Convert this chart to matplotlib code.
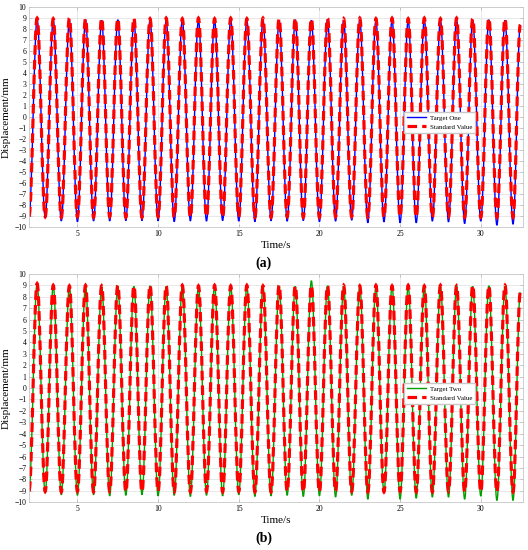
import numpy as np
import matplotlib
matplotlib.use('Agg')
import matplotlib.pyplot as plt
from matplotlib.path import Path
from matplotlib.patches import PathPatch
from matplotlib.lines import Line2D

plt.rcParams['font.family'] = ['Liberation Serif', 'DejaVu Serif']

# Time of every trough (s); peaks sit half a period later
trough_t = np.arange(2, 33)
peak_t = trough_t + 0.5
END_T = 32.45

# (a) Target One vs standard value: per-cycle extremes (mm)
one_troughs = [-9.0, -9.1, -9.43, -9.5, -9.43, -9.43, -9.4, -9.4, -9.42, -9.5, -9.43,
               -9.45, -9.4, -9.45, -9.5, -9.42, -9.45, -9.4, -9.5, -9.45,
               -9.36, -9.6, -9.52, -9.6, -9.6, -9.45, -9.52, -9.67, -9.45, -9.82, -9.73]
one_peaks = [8.9, 8.85, 8.8, 8.85, 8.8, 8.85, 8.8, 8.85, 8.8, 8.85, 8.8,
             8.8, 8.85, 8.8, 8.85, 8.8, 8.85, 8.8, 8.85, 8.8, 8.85,
             8.8, 8.85, 8.8, 8.85, 8.8, 8.85, 8.8, 8.85, 8.8, 8.4]
std_a_troughs = [-9.0, -9.06, -9.1, -9.05, -9.1, -9.05, -9.1, -9.1, -9.05, -9.1, -9.1,
                 -9.05, -9.1, -9.05, -9.1, -9.1, -9.05, -9.1, -9.1, -9.05,
                 -9.05, -9.1, -9.1, -9.05, -9.1, -9.1, -9.05, -9.1, -9.1, -9.1, -9.1]
std_a_peaks = [9.0, 8.95, 9.0, 8.95, 9.0, 8.95, 9.0, 8.95, 9.0, 8.95, 9.0,
               8.95, 9.0, 8.95, 9.0, 8.95, 9.0, 8.95, 9.0, 8.95, 9.0,
               8.95, 9.0, 8.95, 9.0, 8.95, 9.0, 8.95, 9.0, 8.95, 8.4]

# (b) Target Two vs standard value
two_troughs = [-9.0, -9.2, -9.35, -9.4, -9.35, -9.45, -9.4, -9.35, -9.45, -9.4, -9.5,
               -9.4, -9.45, -9.35, -9.5, -9.45, -9.4, -9.5, -9.45, -9.55,
               -9.4, -9.74, -9.21, -9.74, -9.65, -9.56, -9.56, -9.74, -9.47, -9.85, -9.85]
two_peaks = [9.15, 8.95, 8.9, 8.95, 8.9, 8.95, 8.9, 8.95, 8.9, 8.95, 8.9,
             8.95, 8.9, 8.95, 8.9, 8.95, 8.9, 9.4, 8.95, 8.9, 8.95,
             8.9, 8.95, 8.9, 8.95, 8.9, 8.95, 8.9, 8.95, 8.9, 8.4]
std_b_troughs = std_a_troughs
std_b_peaks = [9.15, 9.0, 8.95, 9.0, 8.95, 9.0, 8.95, 9.0, 8.95, 9.0, 8.95,
               9.0, 8.95, 9.0, 8.95, 9.0, 8.95, 9.0, 8.95, 9.0, 8.95,
               9.0, 8.95, 9.0, 8.95, 9.0, 8.95, 9.0, 8.95, 9.0, 8.4]

y_ticks = np.arange(-10, 11)
x_ticks = [5, 10, 15, 20, 25, 30]


def wave_path(troughs, peaks):
    # merge extremes in time order and join them with smooth half-cycle curves
    ts, ys = [], []
    for i in range(len(troughs)):
        ts.append(trough_t[i]); ys.append(troughs[i])
        if i < len(peaks):
            ts.append(peak_t[i]); ys.append(peaks[i])
    ts[-1] = END_T
    k = 0.364
    verts = [(ts[0], ys[0])]
    codes = [Path.MOVETO]
    for i in range(1, len(ts)):
        h = ts[i] - ts[i - 1]
        verts += [(ts[i - 1] + k * h, ys[i - 1]), (ts[i] - k * h, ys[i]), (ts[i], ys[i])]
        codes += [Path.CURVE4] * 3
    return Path(verts, codes)


def panel(ax, troughs, peaks, st_troughs, st_peaks, color, name):
    ax.add_patch(PathPatch(wave_path(troughs, peaks), fill=False,
                           edgecolor=color, lw=1.0))
    ax.add_patch(PathPatch(wave_path(st_troughs, st_peaks), fill=False,
                           edgecolor='#ff0000', lw=2.3, linestyle=(0, (3, 1.6))))
    ax.set_xlim(2.0, 32.6)
    ax.set_ylim(-10, 10)
    ax.set_xticks(x_ticks)
    ax.set_yticks(y_ticks)
    ax.grid(True, color='#e4e4e4', lw=0.6)
    ax.set_axisbelow(True)
    for s in ax.spines.values():
        s.set_color('#c8c8c8')
        s.set_linewidth(0.6)
    ax.tick_params(direction='in', length=2, width=0.5, color='#b0b0b0',
                   labelsize=5.5, pad=2, top=True, right=True)
    ax.set_xlabel('Time/s', fontsize=8, labelpad=2)
    ax.set_ylabel('Displacement/mm', fontsize=8, labelpad=3)
    handles = [Line2D([], [], color=color, lw=1.0),
               Line2D([], [], color='#ff0000', lw=2.3, linestyle=(0, (3, 1.6)))]
    ax.legend(handles, [name, 'Standard Value'], loc='center left',
              bbox_to_anchor=(0.752, 0.477), fontsize=5, frameon=True,
              fancybox=False, edgecolor='#c8c8c8', framealpha=1,
              handlelength=2.7, handletextpad=0.6, borderpad=0.45,
              labelspacing=0.45)


fig = plt.figure(figsize=(5.28, 5.5), dpi=100)
ax1 = fig.add_axes([0.055, 0.587, 0.935, 0.40])
ax2 = fig.add_axes([0.055, 0.087, 0.935, 0.415])

panel(ax1, one_troughs, one_peaks, std_a_troughs, std_a_peaks, '#0000ff', 'Target One')
panel(ax2, two_troughs, two_peaks, std_b_troughs, std_b_peaks, '#00a000', 'Target Two')

fig.text(0.5, 1 - 263 / 550, '(a)', ha='center', va='center', fontsize=10,
         fontweight='bold')
fig.text(0.5, 1 - 538 / 550, '(b)', ha='center', va='center', fontsize=10,
         fontweight='bold')

fig.savefig('out.png', dpi=100)
